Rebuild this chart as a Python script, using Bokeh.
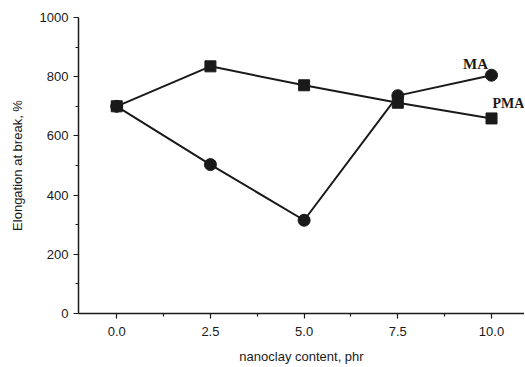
from bokeh.plotting import figure
from bokeh.models import FixedTicker, Range1d, Label, PrintfTickFormatter
from bokeh.embed import file_html
from bokeh.resources import INLINE

# Data
nanoclay = [0.0, 2.5, 5.0, 7.5, 10.0]
ma_elong = [700, 503, 315, 736, 805]
pma_elong = [700, 835, 771, 712, 659]

x_major = [0.0, 2.5, 5.0, 7.5, 10.0]
x_minor = [1.25, 3.75, 6.25, 8.75]
y_major = [0, 200, 400, 600, 800, 1000]
y_minor = [100, 300, 500, 700, 900]

INK = "#1a1a1a"

p = figure(width=524, height=366, output_backend="svg", toolbar_location=None,
           x_range=Range1d(-1.02, 10.88), y_range=Range1d(0, 1000),
           min_border_left=78, min_border_top=17, min_border_bottom=52, min_border_right=0)
p.outline_line_color = None
p.grid.visible = False
p.background_fill_color = "white"
p.border_fill_color = "white"

p.xaxis.ticker = FixedTicker(ticks=x_major, minor_ticks=x_minor)
p.yaxis.ticker = FixedTicker(ticks=y_major, minor_ticks=y_minor)
p.xaxis.formatter = PrintfTickFormatter(format="%.1f")

for ax in (p.xaxis[0], p.yaxis[0]):
    ax.axis_line_color = INK
    ax.axis_line_width = 1.5
    ax.major_tick_line_color = INK
    ax.minor_tick_line_color = INK
    ax.major_tick_line_width = 1.2
    ax.minor_tick_line_width = 1.2
    ax.major_tick_in = 0
    ax.major_tick_out = 5
    ax.minor_tick_in = 0
    ax.minor_tick_out = 3
    ax.major_label_text_font = "Liberation Sans"
    ax.major_label_text_font_size = "13px"
    ax.major_label_text_color = INK
    ax.axis_label_text_font = "Liberation Sans"
    ax.axis_label_text_font_size = "13px"
    ax.axis_label_text_font_style = "normal"
    ax.axis_label_text_color = INK

p.xaxis.axis_label = "nanoclay content, phr"
p.yaxis.axis_label = "Elongation at break, %"
p.xaxis.major_label_standoff = 8
p.xaxis.axis_label_standoff = 10
p.yaxis.major_label_standoff = 5
p.yaxis.axis_label_standoff = 12

p.line(nanoclay, ma_elong, line_color=INK, line_width=2)
p.line(nanoclay, pma_elong, line_color=INK, line_width=2)
p.scatter(nanoclay, ma_elong, marker="circle", size=12, fill_color=INK, line_color=INK)
p.scatter(nanoclay, pma_elong, marker="square", size=11, fill_color=INK, line_color=INK)

p.add_layout(Label(x=nanoclay[-1], y=ma_elong[-1], text="MA", x_offset=-16, y_offset=11,
                   text_align="center", text_baseline="alphabetic",
                   text_font="Liberation Serif", text_font_style="bold",
                   text_font_size="15px", text_color=INK))
p.add_layout(Label(x=nanoclay[-1], y=pma_elong[-1], text="PMA", x_offset=1, y_offset=15,
                   text_align="left", text_baseline="alphabetic",
                   text_font="Liberation Serif", text_font_style="bold",
                   text_font_size="14px", text_color=INK))

open("out.html", "w").write(file_html(p, INLINE))
